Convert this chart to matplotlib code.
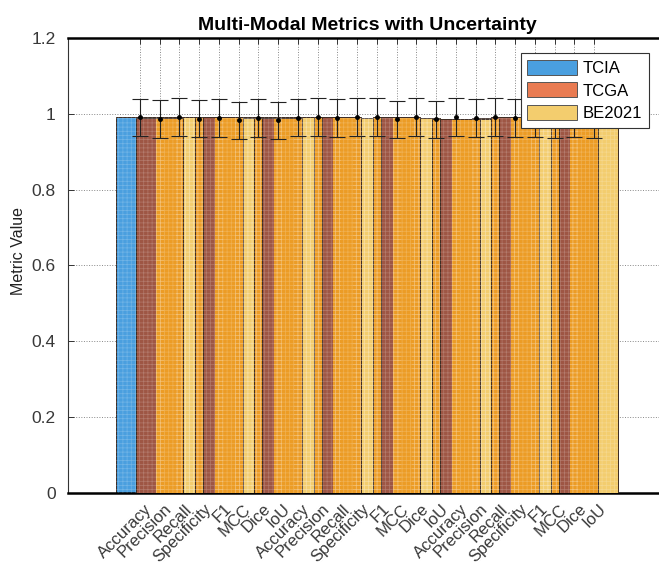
import matplotlib
matplotlib.use('Agg')
import matplotlib.pyplot as plt
import matplotlib.transforms as mtransforms
import numpy as np
from matplotlib.patches import Patch
from matplotlib.path import Path

plt.rcParams['font.family'] = ['Liberation Sans', 'DejaVu Sans']
plt.rcParams['hatch.linewidth'] = 0.5

# ---------------- data ----------------
metrics = ['Accuracy', 'Precision', 'Recall', 'Specificity', 'F1', 'MCC', 'Dice', 'IoU']
datasets = ['TCIA', 'TCGA', 'BE2021']

tcia_mean = [0.991, 0.988, 0.992, 0.988, 0.990, 0.984, 0.990, 0.984]
tcga_mean = [0.990, 0.992, 0.990, 0.993, 0.992, 0.986, 0.992, 0.986]
be_mean = [0.992, 0.990, 0.992, 0.990, 0.990, 0.986, 0.990, 0.986]

tcia_err = [0.049, 0.050, 0.050, 0.049, 0.050, 0.049, 0.050, 0.049]
tcga_err = [0.049, 0.050, 0.050, 0.050, 0.050, 0.049, 0.050, 0.049]
be_err = [0.050, 0.050, 0.050, 0.050, 0.050, 0.050, 0.050, 0.050]

yticks = [0, 0.2, 0.4, 0.6, 0.8, 1.0, 1.2]
ytick_labels = ['0', '0.2', '0.4', '0.6', '0.8', '1', '1.2']

# ---------------- style ----------------
c_tcia = '#4A9FDF'
c_tcga_under = '#9E5644'
c_tcga_over = '#EC9C25'
c_tcga_legend = '#E97B52'
c_be = '#F3CD6E'
c_edge = '#3B2A22'
c_texture = (1, 1, 1, 0.22)
txt_col = '#383838'

fig = plt.figure(figsize=(6.59, 5.69), dpi=100)
ax = fig.add_axes([0.1036, 0.1341, 0.9077, 0.7986])

n_m = len(metrics)
n_d = len(datasets)
x_series = [np.arange(n_m) * n_d + d + 1 for d in range(n_d)]
width = 0.8 * n_d

bA = ax.bar(x_series[0], tcia_mean, width, color=c_tcia, edgecolor=c_edge, linewidth=0.7, zorder=2)
bB = ax.bar(x_series[1], tcga_mean, width, color=c_tcga_under, edgecolor=c_edge, linewidth=0.7, zorder=3)
bC = ax.bar(x_series[2], be_mean, width, color=c_be, edgecolor=c_edge, linewidth=0.7, zorder=4)

# TCGA seen through BE2021 bars
clip = Path.make_compound_path(*[p.get_path().transformed(p.get_patch_transform()) for p in bC])
bB2 = ax.bar(x_series[1], tcga_mean, width, color=c_tcga_over, edgecolor=c_edge, linewidth=0.7, zorder=5)
for p in bB2:
    p.set_clip_path(clip, ax.transData)

# fine grid texture on the bars
ax.bar(x_series[0], tcia_mean, width, facecolor='none', edgecolor=c_texture, linewidth=0,
       hatch='++++', zorder=5.5)
ax.bar(x_series[2], be_mean, width, facecolor='none', edgecolor=c_texture, linewidth=0,
       hatch='++++', zorder=5.5)

# error bars at every label position
all_mean = tcia_mean + tcga_mean + be_mean
all_err = tcia_err + tcga_err + be_err
x_all = np.arange(1, len(all_mean) + 1)
ax.errorbar(x_all, all_mean, yerr=all_err, fmt='.', color='black', ecolor='#222222',
            markersize=5, capsize=5.5, elinewidth=0.8, capthick=0.8, zorder=6)

ax.set_xlim(-2.63, 27.66)
ax.set_ylim(0, 1.2)
ax.set_yticks(yticks)
ax.set_yticklabels(ytick_labels, fontsize=12.5, color=txt_col)
ax.set_xticks(x_all)
ax.set_xticklabels(metrics * n_d, fontsize=12, color=txt_col)

ax.set_axisbelow(True)
ax.grid(True, linestyle=':', color='#888888', linewidth=0.7)
ax.tick_params(direction='in', top=True, right=True, length=4, width=0.7, colors='#333333')
ax.tick_params(axis='y', pad=9, labelcolor=txt_col)
ax.tick_params(axis='x', pad=10, labelcolor=txt_col)

offset = mtransforms.ScaledTranslation(7 / 72, 0, fig.dpi_scale_trans)
for lbl in ax.get_xticklabels():
    lbl.set_rotation(45)
    lbl.set_ha('right')
    lbl.set_va('center')
    lbl.set_rotation_mode('anchor')
    lbl.set_transform(lbl.get_transform() + offset)

for side in ['top', 'bottom']:
    ax.spines[side].set_linewidth(1.8)
    ax.spines[side].set_color('black')
ax.spines['left'].set_linewidth(0.8)
ax.spines['left'].set_color('#333333')

ax.set_title('Multi-Modal Metrics with Uncertainty', fontsize=14, fontweight='bold', pad=6)
ax.set_ylabel('Metric Value', fontsize=11.5, color='#222222')
ax.yaxis.set_label_coords(-0.07, 0.531)

handles = [Patch(facecolor=c_tcia, edgecolor='#555555', linewidth=0.7),
           Patch(facecolor=c_tcga_legend, edgecolor='#555555', linewidth=0.7),
           Patch(facecolor=c_be, edgecolor='#555555', linewidth=0.7)]
leg = ax.legend(handles, datasets, loc='upper left', bbox_to_anchor=(0.7563, 0.9677),
                borderaxespad=0, fontsize=12, handlelength=3.0, handleheight=1.0,
                labelspacing=0.4, borderpad=0.4, handletextpad=0.3,
                fancybox=False, framealpha=1, edgecolor='#333333')
leg.get_frame().set_linewidth(0.8)
leg.set_zorder(10)

fig.savefig('out.png', dpi=100)
